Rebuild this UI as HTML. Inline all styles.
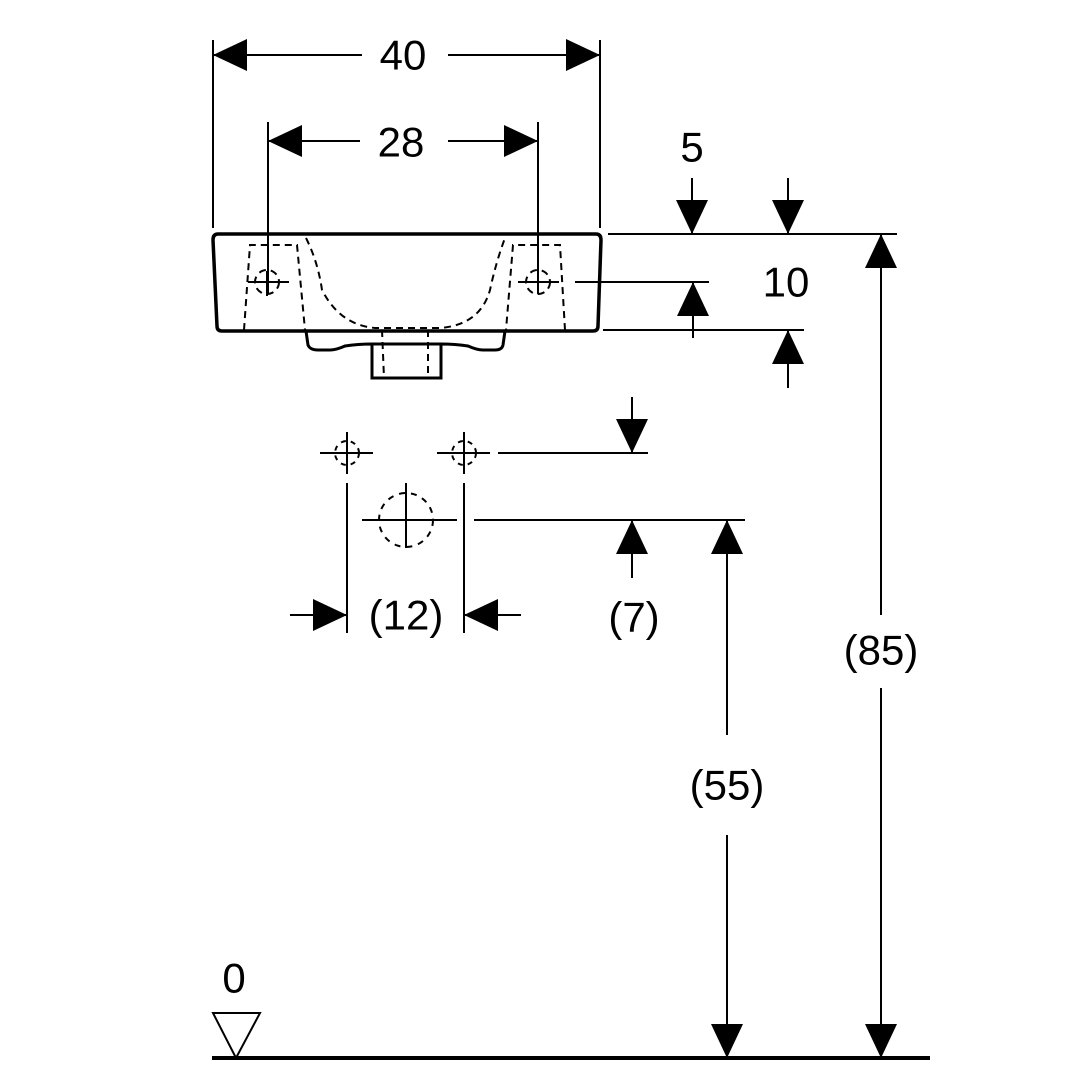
<!DOCTYPE html><html><head><style>body{margin:0;background:#fff}svg{display:block}text{font-family:"Liberation Sans",sans-serif;font-size:42px;fill:#000;text-anchor:middle;dominant-baseline:central}</style></head><body>
<svg width="1080" height="1080" viewBox="0 0 1080 1080" xmlns="http://www.w3.org/2000/svg">
<defs>
<path id="aL" d="M0 0 L34 -16 L34 16Z"/>
</defs>
<g stroke="#000" stroke-width="2" fill="none">
<line x1="213" y1="40" x2="213" y2="228"/><line x1="600" y1="40" x2="600" y2="228"/>
<line x1="213" y1="55" x2="362" y2="55"/><line x1="448" y1="55" x2="600" y2="55"/>
<line x1="268" y1="122" x2="268" y2="294"/><line x1="538" y1="122" x2="538" y2="294"/>
<line x1="268" y1="141" x2="360" y2="141"/><line x1="448" y1="141" x2="538" y2="141"/>
<line x1="608" y1="234" x2="897" y2="234"/>
<line x1="575" y1="282" x2="709" y2="282"/>
<line x1="603" y1="330" x2="804" y2="330"/>
<line x1="692" y1="178" x2="692" y2="234"/><line x1="788" y1="178" x2="788" y2="234"/>
<line x1="693" y1="282" x2="693" y2="338"/><line x1="788" y1="330" x2="788" y2="388"/>
<line x1="881" y1="234" x2="881" y2="615"/><line x1="881" y1="688" x2="881" y2="1058"/>
<line x1="498" y1="453" x2="648" y2="453"/><line x1="632" y1="397" x2="632" y2="453"/>
<line x1="474" y1="520" x2="745" y2="520"/><line x1="632" y1="520" x2="632" y2="578"/>
<line x1="727" y1="520" x2="727" y2="735"/><line x1="727" y1="835" x2="727" y2="1058"/>
<line x1="347" y1="483" x2="347" y2="633"/><line x1="464" y1="483" x2="464" y2="633"/>
<line x1="290" y1="615" x2="347" y2="615"/><line x1="464" y1="615" x2="521" y2="615"/>
<line x1="320" y1="453" x2="373" y2="453"/><line x1="347" y1="432" x2="347" y2="474"/>
<line x1="437" y1="453" x2="490" y2="453"/><line x1="464" y1="432" x2="464" y2="474"/>
<circle cx="347" cy="453" r="12" stroke-dasharray="5 5"/><circle cx="464" cy="453" r="12" stroke-dasharray="5 5"/>
<line x1="362" y1="520" x2="457" y2="520"/><line x1="406" y1="483" x2="406" y2="548"/>
<circle cx="406" cy="520" r="27" stroke-dasharray="6 6"/>
<path stroke-width="3.5" d="M218 234 H596 Q601 234 601 240 L598 326 Q598 331 593 331 H222 Q217 331 217 326 L213 240 Q213 234 218 234Z"/>
<path stroke-width="3" d="M306 331 L308 345 Q310 350 318 350 H330 Q336 350 345 346 Q358 344 372 344 V378 H441 V344 Q455 344 468 346 Q477 350 483 350 H495 Q502 350 503 345 L505 331"/>
<line x1="372" y1="344" x2="441" y2="344" stroke-width="3"/>
<g stroke-dasharray="7 5">
<path d="M244 330 L250 245 H297 L305 330"/>
<path d="M565 330 L560 245 H513 L506 330"/>
<path d="M306 238 Q318 262 322 290 Q340 325 375 328 H440 Q480 325 490 290 Q496 262 505 238"/>
<line x1="382" y1="330" x2="384" y2="378"/><line x1="428" y1="330" x2="428" y2="378"/>
<circle cx="267" cy="282" r="12"/><circle cx="538" cy="282" r="12"/>
</g>
<line x1="248" y1="282" x2="289" y2="282"/><line x1="518" y1="282" x2="559" y2="282"/>
<line x1="267" y1="271" x2="267" y2="296"/>
<line x1="212" y1="1058" x2="930" y2="1058" stroke-width="4"/>
<path d="M213 1013 H260 L236 1058Z"/>
</g>
<g fill="#000">
<use href="#aL" transform="translate(213,55)"/><use href="#aL" transform="translate(600,55) rotate(180)"/>
<use href="#aL" transform="translate(268,141)"/><use href="#aL" transform="translate(538,141) rotate(180)"/>
<use href="#aL" transform="translate(692,234) rotate(-90)"/><use href="#aL" transform="translate(788,234) rotate(-90)"/>
<use href="#aL" transform="translate(693,282) rotate(90)"/><use href="#aL" transform="translate(788,330) rotate(90)"/>
<use href="#aL" transform="translate(881,234) rotate(90)"/><use href="#aL" transform="translate(881,1058) rotate(-90)"/>
<use href="#aL" transform="translate(632,453) rotate(-90)"/><use href="#aL" transform="translate(632,520) rotate(90)"/>
<use href="#aL" transform="translate(727,520) rotate(90)"/><use href="#aL" transform="translate(727,1058) rotate(-90)"/>
<use href="#aL" transform="translate(347,615) rotate(180)"/><use href="#aL" transform="translate(464,615)"/>
</g>
<text x="403" y="55">40</text><text x="401" y="142">28</text>
<text x="692" y="147">5</text><text x="786" y="282">10</text>
<text x="881" y="650">(85)</text><text x="727" y="785">(55)</text>
<text x="634" y="617">(7)</text><text x="406" y="615">(12)</text>
<text x="234" y="978">0</text>
</svg></body></html>
